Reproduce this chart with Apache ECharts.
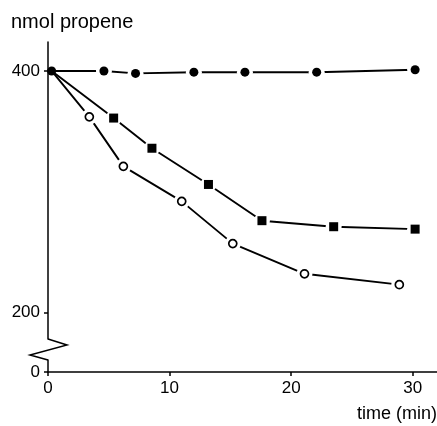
<!DOCTYPE html>
<html><head><meta charset="utf-8">
<script src="https://cdn.jsdelivr.net/npm/echarts@6/dist/echarts.min.js"></script>
<style>html,body{margin:0;padding:0;background:#fff}#c{width:437px;height:426px}</style>
</head><body><div id="c"></div>
<script>
// time (min) and nmol propene
const controlT = [0.3, 4.6, 7.2, 12.0, 16.2, 22.1, 30.2];
const controlV = [400, 400, 398, 399, 399, 399, 401];
const squareT  = [0.3, 5.4, 8.55, 13.2, 17.6, 23.5, 30.2];
const squareV  = [400, 361, 336, 306, 276, 271, 269];
const openT    = [0.3, 3.4, 6.2, 11.0, 15.2, 21.1, 28.9];
const openV    = [400, 362, 321, 292, 257, 232, 223];
const xTicks = [0, 10, 20, 30];
const yTicksUpper = [200, 400];
const yTicksLower = [0];

const FONT = 'Liberation Sans';
const pairs = (t, v) => t.map((x, i) => [x, v[i]]);

const chart = echarts.init(document.getElementById('c'), null, {renderer: 'canvas'});

// shared start point (index 0) is drawn with the filled-circle marker only
const skipFirst = size => (val, p) => (p && p.dataIndex === 0) ? 0 : size;

function seriesSet(t, v, marker, markerZ) {
  const d = pairs(t, v);
  return [
    {type: 'line', xAxisIndex: 0, yAxisIndex: 0, data: d, showSymbol: false, z: 2,
     lineStyle: {color: '#000', width: 1.9}, silent: true},
    {type: 'scatter', xAxisIndex: 0, yAxisIndex: 0, data: d, z: 3, symbol: 'circle',
     symbolSize: skipFirst(16),
     itemStyle: {color: '#fff', opacity: 1}, silent: true},
    Object.assign({type: 'scatter', xAxisIndex: 0, yAxisIndex: 0, data: d, z: markerZ, silent: true}, marker)
  ];
}

const axisLineStyle = {color: '#000', width: 1.5};
const labelStyle = {color: '#000', fontFamily: FONT, fontSize: 17};

chart.setOption({
  animation: false,
  backgroundColor: '#fff',
  grid: [
    {left: 48, top: 42, width: 389, height: 297},
    {left: 48, top: 360, width: 389, height: 12}
  ],
  xAxis: [
    {gridIndex: 0, type: 'value', min: 0, max: 32, show: false},
    {gridIndex: 1, type: 'value', min: 0, max: 32,
     axisLine: {show: true, lineStyle: axisLineStyle},
     axisTick: {show: true, length: 4, lineStyle: axisLineStyle, customValues: xTicks},
     axisLabel: Object.assign({margin: 8, customValues: xTicks}, labelStyle),
     splitLine: {show: false}}
  ],
  yAxis: [
    {gridIndex: 0, type: 'value', min: 178, max: 424,
     axisLine: {show: true, lineStyle: axisLineStyle},
     axisTick: {show: true, length: 4, lineStyle: axisLineStyle, customValues: yTicksUpper},
     axisLabel: Object.assign({margin: 8, customValues: yTicksUpper}, labelStyle),
     splitLine: {show: false}},
    {gridIndex: 1, type: 'value', min: 0, max: 10,
     axisLine: {show: true, lineStyle: axisLineStyle},
     axisTick: {show: true, length: 4, lineStyle: axisLineStyle, customValues: yTicksLower},
     axisLabel: Object.assign({margin: 8, customValues: yTicksLower}, labelStyle),
     splitLine: {show: false}}
  ],
  series: [].concat(
    seriesSet(controlT, controlV, {symbol: 'circle', symbolSize: 9, itemStyle: {color: '#000', opacity: 1}}, 6),
    seriesSet(squareT, squareV, {symbol: 'rect', symbolSize: skipFirst(9), itemStyle: {color: '#000', opacity: 1}}, 4),
    seriesSet(openT, openV, {symbol: 'circle', symbolSize: skipFirst(8),
      itemStyle: {color: '#fff', borderColor: '#000', borderWidth: 1.7, opacity: 1}}, 4)
  )
});

const p1 = chart.convertToPixel({xAxisIndex: 0, yAxisIndex: 0}, [0, 178]);
const p2 = chart.convertToPixel({xAxisIndex: 1, yAxisIndex: 1}, [0, 10]);
chart.setOption({
  graphic: [
    {type: 'polyline', shape: {points: [p1, [p1[0] + 19, p1[1] + 6], [p1[0] - 18, p1[1] + 16], p2]},
     style: {stroke: '#000', lineWidth: 1.5, fill: null}},
    {type: 'text', left: 11, top: 12, style: {text: 'nmol propene', fill: '#000', font: '20px "Liberation Sans"'}},
    {type: 'text', right: 0, top: 405, style: {text: 'time (min)', fill: '#000', font: '18px "Liberation Sans"'}}
  ]
});
</script></body></html>
